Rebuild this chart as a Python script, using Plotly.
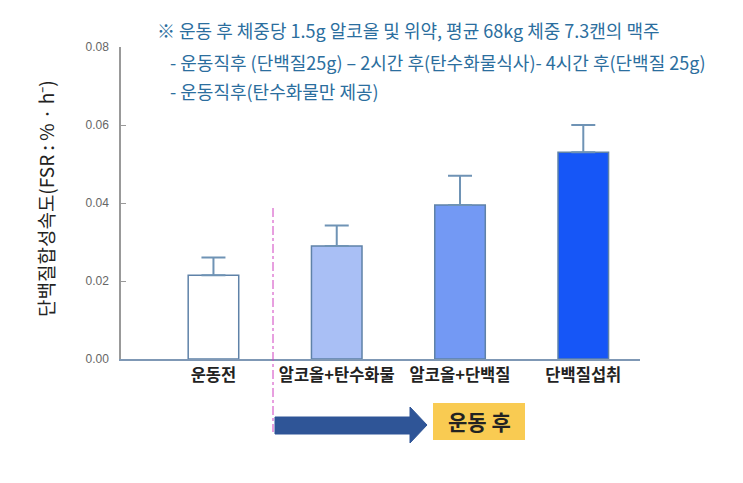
import plotly.graph_objects as go

categories = ["운동전", "알코올+탄수화물", "알코올+단백질", "단백질섭취"]
fsr_values = [0.0215, 0.029, 0.0395, 0.053]
fsr_err_up = [0.0045, 0.0052, 0.0075, 0.007]
bar_colors = ["#FFFFFF", "#A9BFF5", "#7399F4", "#1656F7"]
y_ticks = [0.00, 0.02, 0.04, 0.06, 0.08]

note_lines = [
    "※ 운동 후 체중당 1.5g 알코올 및 위약, 평균 68kg 체중 7.3캔의 맥주",
    "- 운동직후 (단백질25g) – 2시간 후(탄수화물식사)- 4시간 후(단백질 25g)",
    "- 운동직후(탄수화물만 제공)",
]

W, H = 743, 483
L, R, T, B = 121, 640, 47, 359
FONT = "Noto Sans CJK KR"

def px(x):
    return (x - L) / (R - L)

def py(y):
    return (B - y) / (B - T)

fig = go.Figure()
fig.add_trace(go.Bar(
    x=categories, y=fsr_values, width=0.41,
    marker=dict(color=bar_colors, line=dict(color="#5F82A8", width=1.5)),
    error_y=dict(type="data", symmetric=False, array=fsr_err_up,
                 arrayminus=[0] * len(fsr_err_up),
                 color="#6F93B5", thickness=2, width=12),
    showlegend=False,
))

fig.update_layout(
    width=W, height=H,
    margin=dict(l=L, r=W - R, t=T, b=H - B),
    paper_bgcolor="white", plot_bgcolor="white",
    font=dict(family=FONT),
    bargap=0.6,
)
fig.update_xaxes(
    range=[-0.75, 3.46], showline=True, linecolor="#7F98B5", linewidth=2,
    ticks="", showgrid=False,
    tickfont=dict(family=FONT, size=16.5, color="#222222", weight="bold"),
)
fig.update_yaxes(
    range=[0, 0.08], tickvals=y_ticks, ticktext=[f"{v:.2f}" for v in y_ticks],
    showline=True, linecolor="#999999", linewidth=1.5,
    ticks="inside", ticklen=5, tickcolor="#999999",
    showgrid=False, zeroline=False,
    tickfont=dict(family="Liberation Sans", size=12, color="#666666"),
    ticklabelstandoff=8,
)

# y title
fig.add_annotation(
    text="단백질합성속도(FSR : % · h⁻)", textangle=-90,
    xref="paper", yref="paper", x=px(45), y=py(199),
    xanchor="center", yanchor="middle", showarrow=False,
    font=dict(family=FONT, size=19, color="#222222"),
)

# notes
note_pos = [(155, 30), (168, 62), (168, 91)]
for txt, (nx, ny) in zip(note_lines, note_pos):
    fig.add_annotation(
        text=txt, xref="paper", yref="paper", x=px(nx), y=py(ny),
        xanchor="left", yanchor="middle", showarrow=False,
        font=dict(family=FONT, size=18, color="#2B6E9E"),
    )

# divider line
fig.add_shape(type="line", xref="paper", yref="paper",
              x0=px(273), x1=px(273), y0=py(208), y1=py(432),
              line=dict(color="#D040C0", width=1, dash="dashdot"))

# arrow
ax0, ax1, ah, atip = 275, 410, 410, 427
sy0, sy1, hy0, hy1 = 417, 434, 407, 443
path = (f"M {px(ax0)} {py(sy0)} L {px(ah)} {py(sy0)} L {px(ah)} {py(hy0)} "
        f"L {px(atip)} {py((hy0 + hy1) / 2)} L {px(ah)} {py(hy1)} "
        f"L {px(ah)} {py(sy1)} L {px(ax0)} {py(sy1)} Z")
fig.add_shape(type="path", xref="paper", yref="paper", path=path,
              fillcolor="#2F5597", line=dict(color="#2F5597", width=1))

# label box
fig.add_shape(type="rect", xref="paper", yref="paper",
              x0=px(433), x1=px(525), y0=py(403), y1=py(440),
              fillcolor="#F9CB52", line=dict(width=0))
fig.add_annotation(
    text="<b>운동 후</b>", xref="paper", yref="paper",
    x=px(479), y=py(421), xanchor="center", yanchor="middle", showarrow=False,
    font=dict(family=FONT, size=21, color="#222222"),
)

fig.write_html("out.html")
